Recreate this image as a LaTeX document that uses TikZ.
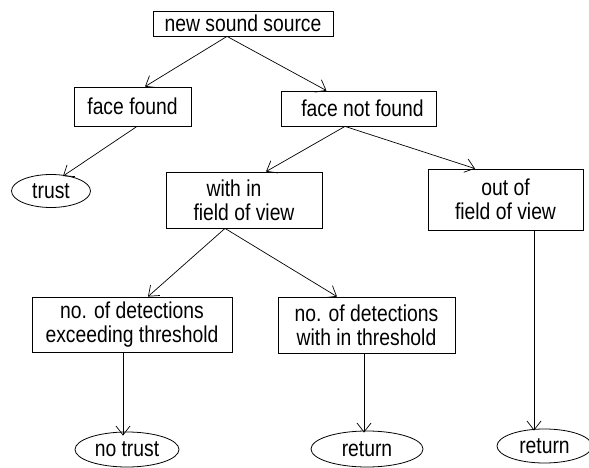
\documentclass[tikz,border=0pt]{standalone}
\usepackage{fontspec}
\setmainfont{Liberation Sans}[FakeStretch=0.84]
\usetikzlibrary{arrows.meta,shapes.geometric}
\begin{document}
\begin{tikzpicture}[x=1pt,y=-1pt,
  every node/.style={font=\fontsize{23}{24}\selectfont, inner sep=0pt, align=center},
  boxnode/.style={draw, rectangle, line width=0.8pt},
  ovalnode/.style={draw, ellipse, line width=0.8pt},
  conn/.style={line width=0.7pt, -{Straight Barb[length=9pt,width=14pt,line width=0.7pt]}}]
\useasboundingbox (0,0) rectangle (589,468);
\node[boxnode, minimum width=180pt, minimum height=25pt] (nss) at (243,23.5) {new sound source};
\node[boxnode, minimum width=117pt, minimum height=39pt] (ff) at (132.5,106.5) {face found};
\node[boxnode, minimum width=155pt, minimum height=35pt] (fnf) at (358.5,108.5) {\hspace*{8pt}face not found};
\node[ovalnode, minimum width=79pt, minimum height=33pt] (trust) at (51,191) {trust};
\node[boxnode, minimum width=156pt, minimum height=56pt] (wif) at (244,200) {with in\hspace*{20pt}\\field of view};
\node[boxnode, minimum width=155pt, minimum height=61pt] (oof) at (505.5,199.5) {out of\\field of view};
\node[boxnode, minimum width=200pt, minimum height=55pt] (exc) at (132,324.5) {no. of detections\\exceeding threshold};
\node[boxnode, minimum width=177pt, minimum height=56pt] (wit) at (366.5,325) {no. of detections\\with in threshold};
\node[ovalnode, minimum width=104pt, minimum height=35pt] (nt) at (127,449.5) {no trust};
\node[ovalnode, minimum width=112pt, minimum height=36pt] (r1) at (367,449) {return};
\node[ovalnode, minimum width=95pt, minimum height=34pt] (r2) at (544.5,446) {return};
\draw[conn] ([xshift=-16pt]nss.south) -- ([xshift=12.5pt]ff.north);
\draw[conn] ([xshift=-16pt]nss.south) -- ([xshift=-32pt]fnf.north);
\draw[conn] ([xshift=4.5pt]ff.south) -- ([xshift=12pt,yshift=-2pt]trust.north);
\draw[conn] ([xshift=-13.5pt]fnf.south) -- ([xshift=22pt]wif.north);
\draw[conn] ([xshift=-13.5pt]fnf.south) -- ([xshift=-30.5pt]oof.north);
\draw[conn] ([xshift=-19pt]wif.south) -- ([xshift=16pt]exc.north);
\draw[conn] ([xshift=-19pt]wif.south) -- ([xshift=-29.5pt]wit.north);
\draw[conn] ([xshift=-9pt]exc.south) -- ([xshift=-4pt,yshift=-4pt]nt.north);
\draw[conn] ([xshift=-2.5pt]wit.south) -- ([xshift=-3pt,yshift=-2pt]r1.north);
\draw[conn] ([xshift=28.5pt]oof.south) -- ([xshift=-10.5pt,yshift=-2pt]r2.north);
\end{tikzpicture}
\end{document}
